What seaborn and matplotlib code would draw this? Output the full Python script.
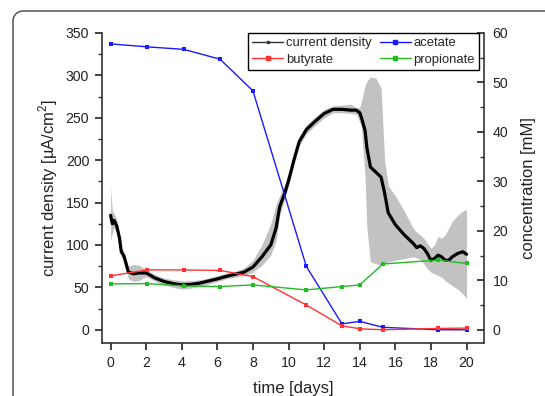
import numpy as np
import pandas as pd
import matplotlib
matplotlib.use("Agg")
import matplotlib.pyplot as plt
from matplotlib.lines import Line2D
from matplotlib.ticker import MultipleLocator
import seaborn as sns

# ---------------- data ----------------
cd_time = [0, 0.1, 0.2, 0.35, 0.5, 0.6, 0.75, 1.0, 1.3, 1.6, 2.0, 2.5, 3.0, 3.5,
           4.0, 4.5, 5.0, 5.5, 6.0, 6.5, 7.0, 7.5, 8.0, 8.5, 9.0, 9.3, 9.5, 9.8,
           10.0, 10.3, 10.6, 11.0, 11.5, 12.0, 12.5, 13.0, 13.5, 13.8, 14.0, 14.1,
           14.3, 14.4, 14.6, 14.9, 15.2, 15.4, 15.6, 16.0, 16.5, 17.0, 17.2, 17.4,
           17.6, 17.8, 18.0, 18.2, 18.4, 18.6, 18.8, 19.0, 19.2, 19.5, 19.8, 20.0]
cd_mean = [135, 125, 129, 122, 108, 92, 87, 68, 66, 67, 67, 61, 57, 54.5,
           53, 53.5, 55, 57.5, 60, 63, 65.5, 68, 74, 86, 100, 120, 145, 162,
           176, 200, 222, 236, 246, 255, 260, 260, 259, 259, 256, 250,
           235, 215, 192, 186, 180, 161, 138, 124, 112, 102, 97, 99,
           96, 90, 82, 84, 88, 86, 82, 82, 86, 90, 92, 89]
cd_lower = [105, 115, 120, 115, 102, 86, 82, 60, 57, 58, 63, 57, 53, 50,
            48, 49, 51, 54, 57, 60, 62, 64, 68, 76, 88, 105, 135, 155,
            170, 195, 217, 231, 241, 250, 256, 256, 255, 254, 245, 238,
            180, 120, 80, 78, 76, 78, 80, 82, 84, 86, 85, 83,
            78, 72, 68, 66, 64, 62, 58, 55, 52, 48, 42, 37]
cd_upper = [168, 140, 137, 130, 113, 98, 92, 75, 77, 76, 71, 65, 61, 59,
            58, 58, 59, 61, 64, 67, 69, 73, 82, 100, 125, 148, 158, 172,
            184, 207, 228, 242, 251, 260, 264, 265, 266, 262, 262, 270,
            288, 293, 298, 297, 285, 200, 170, 158, 140, 120, 115, 112,
            108, 102, 96, 100, 110, 108, 112, 120, 128, 135, 140, 142]

conc_time = [0, 2.05, 4.1, 6.15, 8.0, 11.0, 13.0, 14.0, 15.3, 18.4, 20.0]
acetate = [57.8, 57.2, 56.7, 54.7, 48.3, 12.8, 1.2, 1.7, 0.5, 0.0, 0.0]
butyrate = [10.9, 12.1, 12.1, 12.0, 10.75, 5.0, 0.8, 0.2, 0.0, 0.27, 0.35]
propionate = [9.27, 9.34, 8.87, 8.74, 9.07, 8.06, 8.74, 9.07, 13.3, 14.1, 13.4]

# ---------------- style ----------------
sns.set_style("ticks")
plt.rcParams['font.family'] = ['Liberation Sans', 'DejaVu Sans']
plt.rcParams['mathtext.fontset'] = 'custom'
plt.rcParams['mathtext.rm'] = 'Liberation Sans'

W, H = 545, 396
fig = plt.figure(figsize=(W / 100, H / 100), dpi=100)
fig.patch.set_facecolor('white')

# rounded frame (top-left part only, as in the reference)
fl, ft, r = 13.0, 11.0, 10.0
ang = np.linspace(np.pi, np.pi / 2, 12)
arc_x = (fl + r + r * np.cos(ang)) / W
arc_y = 1 - (ft + r - r * np.sin(ang)) / H
fx = np.concatenate([[fl / W], arc_x, [1.0]])
fy = np.concatenate([[0.0], arc_y, [1 - ft / H]])
fig.add_artist(Line2D(fx, fy, transform=fig.transFigure, color='#444444',
                      linewidth=1.0, solid_capstyle='butt'))

ax = fig.add_axes([101.7 / W, 1 - 342.5 / H, (484.3 - 101.7) / W, (342.5 - 33) / H])
ax2 = ax.twinx()

cd_df = pd.DataFrame({'t': cd_time, 'mean': cd_mean, 'lo': cd_lower, 'hi': cd_upper})
ax.fill_between(cd_df['t'], cd_df['lo'], cd_df['hi'],
                color='#c2c2c2', linewidth=0, zorder=1)
sns.lineplot(data=cd_df, x='t', y='mean', ax=ax, color='black', linewidth=2.3,
             zorder=3, legend=False)

conc_df = pd.DataFrame({'t': conc_time, 'acetate': acetate,
                        'butyrate': butyrate, 'propionate': propionate})
series_colors = {'acetate': '#1a1aff', 'butyrate': '#ff3333', 'propionate': '#22bb22'}
for name, col in series_colors.items():
    sns.lineplot(data=conc_df, x='t', y=name, ax=ax2, color=col, linewidth=1.0,
                 marker='s', markersize=2.8, markeredgewidth=0, legend=False)

ax.set_xlim(-0.5, 21)
ax.set_ylim(-15, 350)
ax2.set_ylim(-15 * 60 / 350, 60)

ax.xaxis.set_major_locator(MultipleLocator(2))
ax.yaxis.set_major_locator(MultipleLocator(50))
ax.yaxis.set_minor_locator(MultipleLocator(25))
ax2.yaxis.set_major_locator(MultipleLocator(10))
ax2.yaxis.set_minor_locator(MultipleLocator(5))

for a in (ax, ax2):
    a.spines['top'].set_visible(False)
    for s in a.spines.values():
        s.set_linewidth(1.2)
        s.set_color('#333333')
ax.spines['right'].set_visible(False)
ax2.spines['left'].set_visible(False)
ax2.spines['bottom'].set_visible(False)

TICK_FS = 10.2
ax.tick_params(axis='x', which='major', direction='out', length=5, width=1.2,
               pad=5, labelsize=TICK_FS, colors='#222222')
ax.tick_params(axis='y', which='major', direction='out', length=5, width=1.2,
               pad=4, labelsize=TICK_FS, colors='#222222')
ax.tick_params(axis='y', which='minor', direction='out', length=3, width=1.0, colors='#333333')
ax2.tick_params(axis='y', which='major', direction='in', length=5, width=1.2,
                pad=6, labelsize=TICK_FS, colors='#222222')
ax2.tick_params(axis='y', which='minor', direction='in', length=3, width=1.0, colors='#333333')

ax.set_xlabel('time [days]', fontsize=12, labelpad=8, color='#222222')
ax.set_ylabel('current density [µA/cm$^2$]', fontsize=12, labelpad=4, color='#222222')
ax2.set_ylabel('concentration [mM]', fontsize=12, labelpad=9, color='#222222')

handles = [
    Line2D([], [], color='#333333', lw=1.0, marker='s', markersize=1.5),
    Line2D([], [], color=series_colors['butyrate'], lw=1.0, marker='s', markersize=2.5),
    Line2D([], [], color=series_colors['acetate'], lw=1.0, marker='s', markersize=2.5),
    Line2D([], [], color=series_colors['propionate'], lw=1.0, marker='s', markersize=2.5),
]
labels = ['current density', 'butyrate', 'acetate', 'propionate']
leg = ax2.legend(handles, labels, ncol=2, loc='upper left',
                 bbox_to_anchor=(0.382, 1.0), borderaxespad=0, frameon=True,
                 fancybox=False, fontsize=9.4, handlelength=2.4,
                 handletextpad=0.2, columnspacing=0.6, labelspacing=0.3,
                 borderpad=0.33)
leg.get_frame().set_edgecolor('black')
leg.get_frame().set_linewidth(1.0)
leg.get_frame().set_alpha(1)

fig.savefig('out.png', dpi=100)
